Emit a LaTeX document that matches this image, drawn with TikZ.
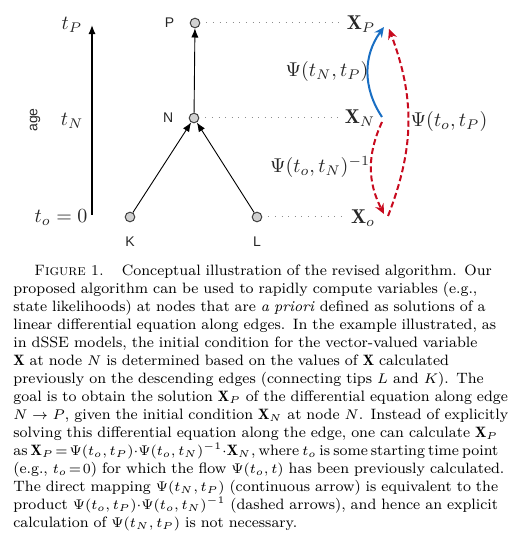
\documentclass[tikz,border=0pt]{standalone}
\usepackage{fontspec}
\setsansfont{Liberation Sans}
\usepackage{amsmath,amssymb}
\usetikzlibrary{arrows.meta,positioning}
\definecolor{flowblue}{RGB}{25,110,195}
\definecolor{flowred}{RGB}{200,10,30}
\newcommand{\capfont}{\fontsize{7.5}{9}\selectfont}
\newcommand{\capline}[1]{\hbox to 242.5pt{#1}}

\begin{document}
\begin{tikzpicture}[x=0.5pt,y=-0.5pt,
	tip/.style={circle,draw=black!75,fill=black!18,line width=0.5pt,inner sep=0pt,minimum size=4.8pt},
	lab/.style={font=\sffamily\fontsize{7}{8}\selectfont,text=black!85,inner sep=1pt},
	mlab/.style={font=\fontsize{10}{12}\selectfont,text=black!85},
	edge/.style={-{Latex[length=4.6pt,width=3.6pt]},line width=0.45pt},
	guide/.style={black!45,line width=0.5pt,dash pattern=on 0.5pt off 2.8pt},
	flow/.style={line width=1pt,-{Stealth[length=5pt,width=4.6pt,inset=1.6pt]}},
	]
	\useasboundingbox (0,0) rectangle (509,550);
	%time axis
	\coordinate (a0) at (92,215);
	\coordinate (a1) at (92,25);
	\draw[line width=0.65pt,-{Latex[length=4.6pt,width=3.6pt]}] (a0) -- (a1);
	\node[lab,rotate=90] (age) at (35,120) {age};
	\node[mlab] (tP) at (72,25) {$t_P$};
	\node[mlab] (tN) at (72,121) {$t_N$};
	\node[mlab] (to) at (61,218) {$t_o=0$};
	%tree
	\node[tip] (P) at (195,23) {};
	\node[tip] (N) at (194,118) {};
	\node[tip] (K) at (130,217) {};
	\node[tip] (L) at (257,217) {};
	\node[lab,left=6.5pt of P] (Plab) {P};
	\node[lab,left=6.5pt of N] (Nlab) {N};
	\node[lab,below=6pt of K] (Klab) {K};
	\node[lab,below=6pt of L] (Llab) {L};
	\draw[edge] (N) -- (P);
	\draw[edge] (K) -- (N);
	\draw[edge] (L) -- (N);
	%state vectors
	\node[mlab] (XP) at (361,24) {$\mathbf{X}_P$};
	\node[mlab] (XN) at (360,118) {$\mathbf{X}_N$};
	\node[mlab] (Xo) at (363,218) {$\mathbf{X}_o$};
	%dotted lines
	\draw[guide,shorten <=3pt] (P) -- (P -| XP.west);
	\draw[guide,shorten <=3pt] (N) -- (N -| XN.west);
	\draw[guide,shorten <=3pt] (L) -- (L -| Xo.west);
	% flow arrows
	\coordinate (bN) at (382,117);
	\coordinate (bP) at (384,27);
	\coordinate (rN) at (382,122);
	\coordinate (ro) at (384,214);
	\coordinate (so) at (388,216);
	\coordinate (sP) at (389,29);
	\draw[flow,flowblue] (bN) to[bend left=35] (bP);
	\draw[flow,flowred,dash pattern=on 3pt off 1.6pt] (rN) to[bend right=26] (ro);
	\draw[flow,flowred,dash pattern=on 3pt off 1.6pt] (so) to[bend right=21] (sP);
	\node[mlab] (psiNP) at (327,72) {$\Psi(t_N,t_P)$};
	\node[mlab] (psioN) at (320,167) {$\Psi(t_o,t_N)^{-1}$};
	\node[mlab] (psioP) at (449,122) {$\Psi(t_o,t_P)$};
	%caption
	\node[anchor=north west,inner sep=0pt,text width=242.5pt,font=\capfont] (cap) at (13,265) {%
		\capline{\hspace*{10.5pt}\textsc{Figure 1.}\hspace{1.2em}Conceptual illustration of the revised algorithm. Our}
		\capline{proposed algorithm can be used to rapidly compute variables (e.g.,}
		\capline{state likelihoods) at nodes that are \textit{a priori} defined as solutions of a}
		\capline{linear differential equation along edges. In the example illustrated, as}
		\capline{in dSSE models, the initial condition for the vector-valued variable}
		\capline{$\mathbf{X}$ at node $N$ is determined based on the values of $\mathbf{X}$ calculated}
		\capline{previously on the descending edges (connecting tips $L$ and $K$). The}
		\capline{goal is to obtain the solution $\mathbf{X}_P$ of the differential equation along edge}
		\capline{$N\rightarrow P$, given the initial condition $\mathbf{X}_N$ at node $N$. Instead of explicitly}
		\capline{solving this differential equation along the edge, one can calculate $\mathbf{X}_P$}
		\capline{\spaceskip=.2em plus .2em as $\mathbf{X}_P\!=\!\Psi(t_o,t_P){\cdot}\Psi(t_o,t_N)^{-1}{\cdot}\mathbf{X}_N$, where $t_o$ is some starting time point}
		\capline{(e.g., $t_o\!=\!0$) for which the flow $\Psi(t_o,t)$ has been previously calculated.}
		\capline{The direct mapping $\Psi(t_N,t_P)$ (continuous arrow) is equivalent to the}
		\capline{product $\Psi(t_o,t_P){\cdot}\Psi(t_o,t_N)^{-1}$ (dashed arrows), and hence an explicit}
		\hbox{calculation of $\Psi(t_N,t_P)$ is not necessary.}};
\end{tikzpicture}
\end{document}
